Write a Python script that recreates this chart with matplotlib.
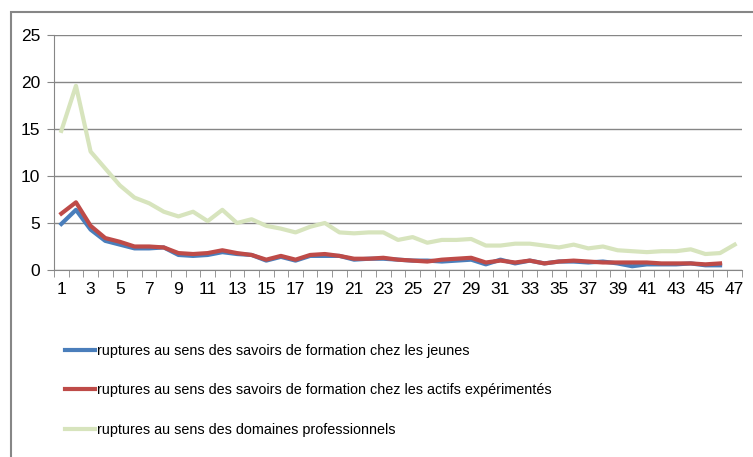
import numpy as np
import matplotlib
matplotlib.use('Agg')
import matplotlib.pyplot as plt
from matplotlib.patches import Rectangle

plt.rcParams['font.family'] = ['Liberation Sans', 'DejaVu Sans']

# data
x_cat = list(range(1, 48))

jeunes = [4.9, 6.4, 4.3, 3.1, 2.7, 2.3, 2.3, 2.4, 1.6, 1.5, 1.6, 1.9, 1.7, 1.6, 1.0, 1.4,
          1.0, 1.5, 1.5, 1.5, 1.1, 1.2, 1.2, 1.1, 1.0, 1.0, 0.9, 1.0, 1.1, 0.6, 1.1, 0.7,
          1.0, 0.7, 0.9, 0.9, 0.8, 0.9, 0.7, 0.4, 0.6, 0.6, 0.6, 0.7, 0.5, 0.5]
actifs = [6.0, 7.2, 4.7, 3.4, 3.0, 2.5, 2.5, 2.4, 1.8, 1.7, 1.8, 2.1, 1.8, 1.6, 1.1, 1.5,
          1.1, 1.6, 1.7, 1.5, 1.2, 1.2, 1.3, 1.1, 1.0, 0.9, 1.1, 1.2, 1.3, 0.8, 1.0, 0.8,
          1.0, 0.7, 0.9, 1.0, 0.9, 0.8, 0.8, 0.8, 0.8, 0.7, 0.7, 0.7, 0.6, 0.7]
domaines = [14.8, 19.6, 12.6, 10.8, 9.0, 7.7, 7.1, 6.2, 5.7, 6.2, 5.2, 6.4, 5.0, 5.4, 4.7, 4.4,
            4.0, 4.6, 5.0, 4.0, 3.9, 4.0, 4.0, 3.2, 3.5, 2.9, 3.2, 3.2, 3.3, 2.6, 2.6, 2.8,
            2.8, 2.6, 2.4, 2.7, 2.3, 2.5, 2.1, 2.0, 1.9, 2.0, 2.0, 2.2, 1.7, 1.8, 2.7]

labels = ['ruptures au sens des savoirs de formation chez les jeunes',
          'ruptures au sens des savoirs de formation chez les actifs expérimentés',
          'ruptures au sens des domaines professionnels']
colors = ['#4a7ebb', '#be4b48', '#d7e4bd']

W, H = 753, 457
fig = plt.figure(figsize=(W / 100, H / 100), dpi=100)
ax = fig.add_axes([54 / W, 1 - 270 / H, (742 - 54) / W, (270 - 35) / H])

ax.plot(x_cat[:len(jeunes)], jeunes, color=colors[0], lw=3, label=labels[0], solid_joinstyle='round')
ax.plot(x_cat[:len(actifs)], actifs, color=colors[1], lw=3, label=labels[1], solid_joinstyle='round')
ax.plot(x_cat, domaines, color=colors[2], lw=3, label=labels[2], solid_joinstyle='round')

ax.set_xlim(0.5, 47.5)
ax.set_ylim(0, 25)
ax.set_yticks([0, 5, 10, 15, 20, 25])
ax.set_xticks(x_cat[::2])
ax.set_xticks(np.arange(0.5, 48, 1), minor=True)
ax.tick_params(axis='x', which='major', length=0, pad=9, labelsize=12.5)
ax.tick_params(axis='x', which='minor', length=5, color='#868686', direction='out')
ax.tick_params(axis='y', length=5, color='#868686', direction='out', labelsize=12.5, pad=5)
ax.grid(axis='y', color='#868686', lw=1)
ax.set_axisbelow(True)
for s in ['top', 'right']:
    ax.spines[s].set_visible(False)
for s in ['left', 'bottom']:
    ax.spines[s].set_color('#868686')

# outer chart frame (cropped at right and bottom)
fig.add_artist(Rectangle((11 / W, -0.1), 1.2, 1 - 12 / H + 0.1, transform=fig.transFigure,
                         fill=False, edgecolor='#868686', lw=1.5))

fig.legend(loc='upper left', bbox_to_anchor=(65 / W, 1 - 344 / H), frameon=False,
           borderpad=0, borderaxespad=0,
           fontsize=10.4, handlelength=2.05, handletextpad=0.15, labelspacing=1.75)

fig.savefig('out.png', dpi=100)
